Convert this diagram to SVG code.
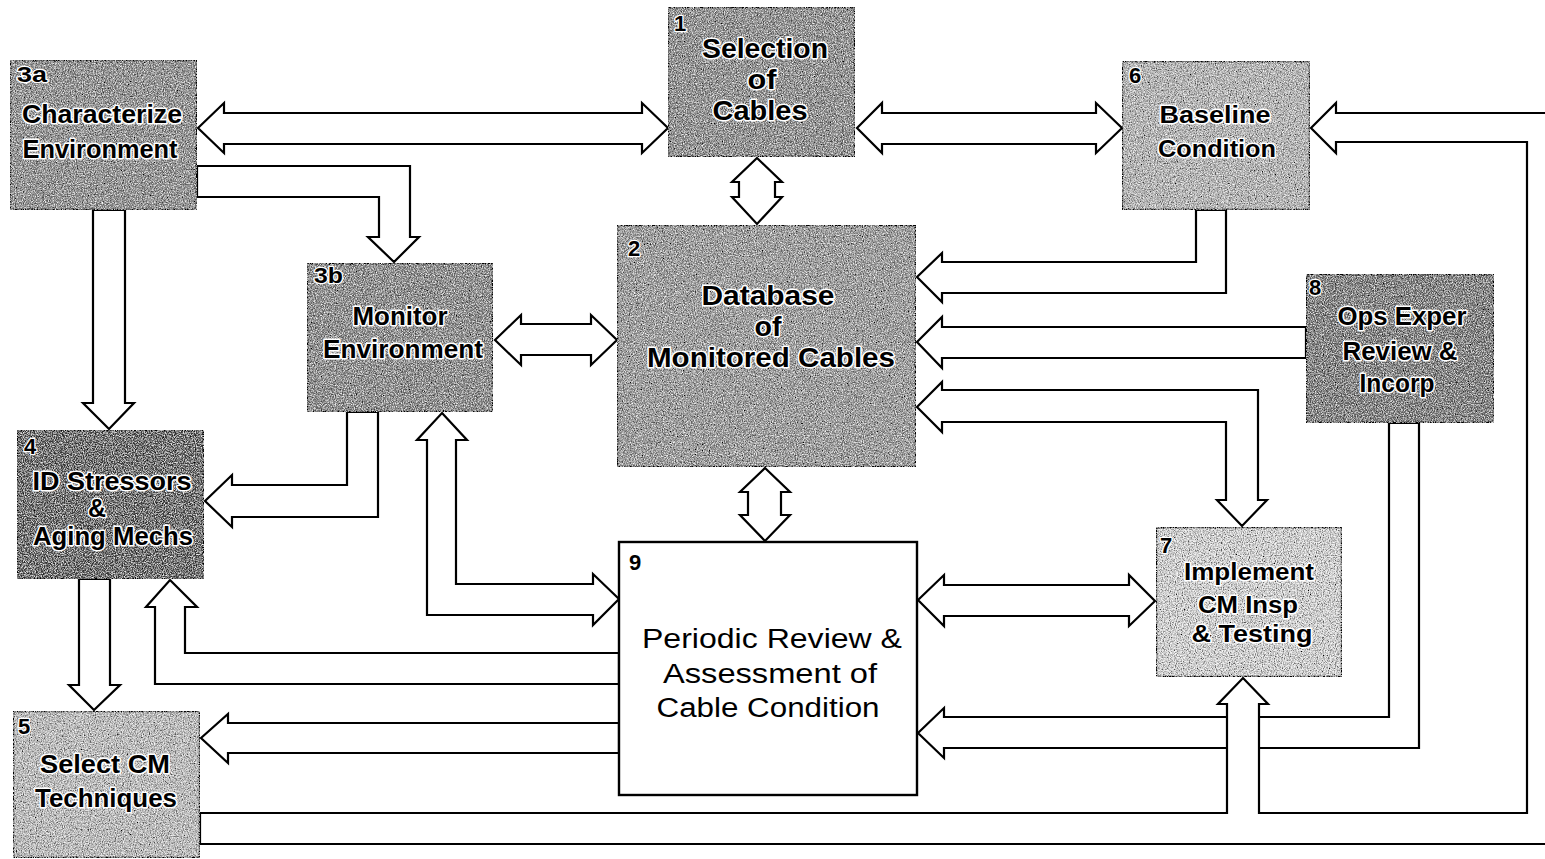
<svg xmlns="http://www.w3.org/2000/svg" width="1545" height="859" viewBox="0 0 1545 859">
<defs>
<filter id="grain" x="0" y="0" width="100%" height="100%">
<feTurbulence type="fractalNoise" baseFrequency="0.9" numOctaves="2" seed="3" result="n"/>
<feColorMatrix in="n" type="matrix" values="0 0 0 0 1  0 0 0 0 1  0 0 0 0 1  0 0 0 -2.2 1.35" result="w"/>
<feTurbulence type="fractalNoise" baseFrequency="0.85" numOctaves="2" seed="9" result="n2"/>
<feColorMatrix in="n2" type="matrix" values="0 0 0 0 0  0 0 0 0 0  0 0 0 0 0  0 0 0 -2.2 1.35" result="b"/>
<feComposite in="w" in2="SourceGraphic" operator="in" result="w2"/>
<feComposite in="b" in2="SourceGraphic" operator="in" result="b2"/>
<feMerge><feMergeNode in="SourceGraphic"/><feMergeNode in="w2"/><feMergeNode in="b2"/></feMerge>
</filter>
</defs>
<style>
.box{stroke:#000;stroke-width:2.4}
.tex{filter:url(#grain)}
.conn polygon{fill:#fff;stroke:#000;stroke-width:2.2;stroke-linejoin:miter}
.t{font-family:"Liberation Sans",Arial,sans-serif;font-weight:bold;fill:#000;stroke:#fff;stroke-width:3;paint-order:stroke;stroke-linejoin:round;text-anchor:middle}
.n{font-family:"Liberation Sans",Arial,sans-serif;font-weight:bold;fill:#000;stroke:#fff;stroke-width:2.5;paint-order:stroke;stroke-linejoin:round;font-size:22px}
.p{font-family:"Liberation Sans",Arial,sans-serif;font-weight:normal;fill:#000;text-anchor:middle;font-size:27px}
</style>
<rect width="1545" height="859" fill="#fff"/>

<g id="connectors" class="conn">
<!-- 3a <-> 1 -->
<polygon points="198,128 224,103 224,113 642,113 642,103 668,128 642,153 642,144 224,144 224,153"/>
<!-- 1 <-> 6 -->
<polygon points="857,128 882,103 882,113 1096,113 1096,103 1122,128 1096,153 1096,144 882,144 882,153"/>
<!-- 1 <-> 2 -->
<polygon points="757,158 782,182 775,182 775,197 782,197 757,224 732,197 739,197 739,182 732,182"/>
<!-- 2 <-> 9 -->
<polygon points="765,468 790,492 781,492 781,515 790,515 765,541 740,515 748,515 748,492 740,492"/>
<!-- 3a -> 3b -->
<polygon points="197,166 410,166 410,237 419,237 394,262 368,237 379,237 379,197 197,197"/>
<!-- 3a -> 4 -->
<polygon points="93,210 125,210 125,403 134,403 109,429 83,403 93,403"/>
<!-- 3b -> 4 -->
<polygon points="347,412 378,412 378,517 232,517 232,527 205,501 232,475 232,485 347,485"/>
<!-- 3b <-> 2 -->
<polygon points="495,340 521,315 521,324 591,324 591,315 617,340 591,365 591,355 521,355 521,365"/>
<!-- 6 -> 2 -->
<polygon points="1196,210 1226,210 1226,293 942,293 942,302 917,277 942,253 942,262 1196,262"/>
<!-- 8 -> 2 -->
<polygon points="1306,327 942,327 942,317 917,342 942,368 942,358 1306,358"/>
<!-- 2 <-> 7 -->
<polygon points="917,407 942,382 942,390 1258,390 1258,500 1267,500 1242,526 1217,500 1226,500 1226,422 942,422 942,432"/>
<!-- 3b <-> 9 -->
<polygon points="442,413 467,440 456,440 456,584 593,584 593,574 619,599 593,625 593,615 427,615 427,440 417,440"/>
<!-- 9 -> 4 -->
<polygon points="170,580 197,607 185,607 185,653 619,653 619,684 155,684 155,607 146,607"/>
<!-- 4 -> 5 -->
<polygon points="79,579 110,579 110,685 120,685 94,710 69,685 79,685"/>
<!-- 9 -> 5 -->
<polygon points="201,738 228,714 228,723 619,723 619,753 228,753 228,763"/>
<!-- 9 <-> 7 -->
<polygon points="918,600 944,575 944,585 1129,585 1129,575 1155,601 1129,626 1129,616 944,616 944,626"/>
<!-- 8 -> 9 -->
<polygon points="1389,423 1419,423 1419,748 944,748 944,758 918,733 944,708 944,717 1389,717"/>
<!-- 5 -> 7 and 5 -> 6 loop -->
<polygon points="200,813 1227,813 1227,704 1218,704 1243,678 1268,704 1259,704 1259,813 1527,813 1527,142 1336,142 1336,153 1311,128 1336,103 1336,113 1552,113 1552,844 200,844"/>
</g>

<g id="node-3a">
<rect class="box tex" x="10" y="60" width="187" height="150" fill="#8a8a8a"/>
<text class="n" x="17" y="82" textLength="30" lengthAdjust="spacingAndGlyphs">3a</text>
<text class="t" x="102" y="123" font-size="25" textLength="160" lengthAdjust="spacingAndGlyphs">Characterize</text>
<text class="t" x="100" y="158" font-size="25" textLength="155" lengthAdjust="spacingAndGlyphs">Environment</text>
</g>

<g id="node-1">
<rect class="box tex" x="668" y="7" width="187" height="150" fill="#888888"/>
<text class="n" x="674" y="31">1</text>
<text class="t" x="765" y="58" font-size="27" textLength="126" lengthAdjust="spacingAndGlyphs">Selection</text>
<text class="t" x="762" y="89" font-size="27" textLength="29" lengthAdjust="spacingAndGlyphs">of</text>
<text class="t" x="760" y="120" font-size="27" textLength="95" lengthAdjust="spacingAndGlyphs">Cables</text>
</g>

<g id="node-6">
<rect class="box tex" x="1122" y="61" width="188" height="149" fill="#bcbcbc"/>
<text class="n" x="1129" y="83">6</text>
<text class="t" x="1215" y="123" font-size="24" textLength="111" lengthAdjust="spacingAndGlyphs">Baseline</text>
<text class="t" x="1217" y="157" font-size="24" textLength="118" lengthAdjust="spacingAndGlyphs">Condition</text>
</g>

<g id="node-2">
<rect class="box tex" x="617" y="225" width="299" height="242" fill="#999999"/>
<text class="n" x="628" y="256">2</text>
<text class="t" x="768" y="305" font-size="27" textLength="133" lengthAdjust="spacingAndGlyphs">Database</text>
<text class="t" x="768" y="336" font-size="27" textLength="27" lengthAdjust="spacingAndGlyphs">of</text>
<text class="t" x="771" y="367" font-size="27" textLength="248" lengthAdjust="spacingAndGlyphs">Monitored Cables</text>
</g>

<g id="node-3b">
<rect class="box tex" x="307" y="263" width="186" height="149" fill="#838383"/>
<text class="n" x="314" y="283" textLength="29" lengthAdjust="spacingAndGlyphs">3b</text>
<text class="t" x="400" y="325" font-size="25" textLength="95" lengthAdjust="spacingAndGlyphs">Monitor</text>
<text class="t" x="403" y="358" font-size="25" textLength="160" lengthAdjust="spacingAndGlyphs">Environment</text>
</g>

<g id="node-8">
<rect class="box tex" x="1306" y="274" width="188" height="149" fill="#6e6e6e"/>
<text class="n" x="1309" y="295">8</text>
<text class="t" x="1402" y="325" font-size="26" textLength="129" lengthAdjust="spacingAndGlyphs">Ops Exper</text>
<text class="t" x="1400" y="360" font-size="26" textLength="115" lengthAdjust="spacingAndGlyphs">Review &amp;</text>
<text class="t" x="1397" y="392" font-size="26" textLength="75" lengthAdjust="spacingAndGlyphs">Incorp</text>
</g>

<g id="node-4">
<rect class="box tex" x="17" y="430" width="187" height="149" fill="#4a4a4a"/>
<text class="n" x="24" y="454" font-size="19">4</text>
<text class="t" x="112" y="490" font-size="25" textLength="159" lengthAdjust="spacingAndGlyphs">ID Stressors</text>
<text class="t" x="97" y="517" font-size="25">&amp;</text>
<text class="t" x="113" y="545" font-size="25" textLength="160" lengthAdjust="spacingAndGlyphs">Aging Mechs</text>
</g>

<g id="node-5">
<rect class="box tex" x="13" y="711" width="187" height="147" fill="#c6c6c6"/>
<text class="n" x="18" y="734">5</text>
<text class="t" x="105" y="773" font-size="25" textLength="130" lengthAdjust="spacingAndGlyphs">Select CM</text>
<text class="t" x="106" y="807" font-size="25" textLength="142" lengthAdjust="spacingAndGlyphs">Techniques</text>
</g>

<g id="node-7">
<rect class="box tex" x="1156" y="527" width="186" height="150" fill="#e2e2e2"/>
<text class="n" x="1160" y="553">7</text>
<text class="t" x="1249" y="580" font-size="23" textLength="130" lengthAdjust="spacingAndGlyphs">Implement</text>
<text class="t" x="1248" y="613" font-size="23" textLength="100" lengthAdjust="spacingAndGlyphs">CM Insp</text>
<text class="t" x="1252" y="642" font-size="23" textLength="121" lengthAdjust="spacingAndGlyphs">&amp; Testing</text>
</g>

<g id="node-9">
<rect class="box" x="619" y="542" width="298" height="253" fill="#fff"/>
<text class="n" x="629" y="570">9</text>
<text class="p" x="772" y="648" textLength="260" lengthAdjust="spacingAndGlyphs">Periodic Review &amp;</text>
<text class="p" x="770" y="683" textLength="214" lengthAdjust="spacingAndGlyphs">Assessment of</text>
<text class="p" x="768" y="717" textLength="223" lengthAdjust="spacingAndGlyphs">Cable Condition</text>
</g>
</svg>
